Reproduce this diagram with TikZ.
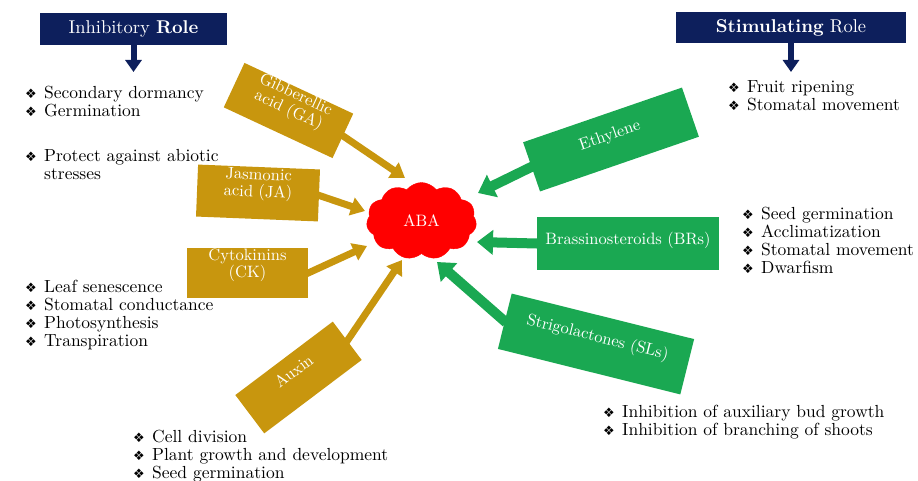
\documentclass[tikz,border=0pt]{standalone}
\usepackage{fontspec}
\setmainfont{lmroman10-regular.otf}[BoldFont=lmroman10-bold.otf, ItalicFont=lmroman10-italic.otf]
\newfontfamily\symfont{DejaVu Sans}
\usetikzlibrary{shapes.symbols,arrows.meta}
\definecolor{navy}{RGB}{13,31,92}
\definecolor{gold}{RGB}{200,150,14}
\definecolor{leaf}{RGB}{26,168,82}
\definecolor{abared}{RGB}{255,0,0}
\newcommand{\bul}{\makebox[11pt][l]{\symfont\fontsize{13}{13}\selectfont ❖}}
\newcommand{\blist}[1]{\begin{tabular}[t]{@{}l@{\hspace{8pt}}l@{}}#1\end{tabular}}
\newcommand{\boxlbl}[2]{\raisebox{#1}[\height][\depth]{\begin{tabular}{@{}c@{}}#2\end{tabular}}}
\tikzset{
  titlebox/.style={fill=navy, text=white, inner sep=0pt, font=\fontsize{18.5}{18}\selectfont},
  goldbox/.style={fill=gold, text=white, inner sep=0pt, font=\fontsize{16.5}{15}\selectfont},
  greenbox/.style={fill=leaf, text=white, inner sep=0pt, font=\fontsize{16.5}{15}\selectfont},
  lst/.style={inner sep=0pt, font=\fontsize{17.5}{18}\selectfont},
  navyarrow/.style={draw=navy, line width=6pt, -{Triangle[width=16pt,length=12pt]}},
  goldarrow/.style={draw=gold, line width=7pt, -{Triangle[width=18pt,length=14pt]}, shorten <=-2pt},
  greenarrow/.style={draw=leaf, line width=10pt, -{Triangle[width=24pt,length=16pt]}, shorten <=-2pt}
}
\begin{document}
\begin{tikzpicture}[x=1pt,y=-1pt]
\useasboundingbox (0,0) rectangle (918,481);

% titles
\node[titlebox, minimum width=187, minimum height=32] (inh) at (133.5,29) {Inhibitory \textbf{Role}};
\node[titlebox, minimum width=230, minimum height=31] (stim) at (791,27.5) {\textbf{Stimulating} Role};
\coordinate (inhT) at (133.5,72);
\coordinate (stimT) at (791,72);
\draw[navyarrow] (inh.south) -- (inhT);
\draw[navyarrow] (stim.south) -- (stimT);

% bullet lists
\node[lst, anchor=base west] (l1) at (25,99) {\blist{\bul & Secondary dormancy\\ \bul & Germination}};
\node[lst, anchor=base west] (l2) at (25,162) {\blist{\bul & Protect against abiotic\\ & stresses}};
\node[lst, anchor=base west] (l3) at (25,292) {\blist{\bul & Leaf senescence\\ \bul & Stomatal conductance\\ \bul & Photosynthesis\\ \bul & Transpiration}};
\node[lst, anchor=base west] (l4) at (133,442) {\blist{\bul & Cell division\\ \bul & Plant growth and development\\ \bul & Seed germination}};
\node[lst, anchor=base west] (r1) at (728,93) {\blist{\bul & Fruit ripening\\ \bul & Stomatal movement}};
\node[lst, anchor=base west] (r2) at (742,219) {\blist{\bul & Seed germination\\ \bul & Acclimatization\\ \bul & Stomatal movement\\ \bul & Dwarfism}};
\node[lst, anchor=base west] (r3) at (603,417) {\blist{\bul & Inhibition of auxiliary bud growth\\ \bul & Inhibition of branching of shoots}};

% ABA cloud
\node[cloud, cloud puffs=11, cloud puff arc=105, aspect=1.45, fill=abared, draw=abared, inner sep=0pt,
      minimum width=110, minimum height=77, text=white, font=\fontsize{16.5}{16}\selectfont] (aba) at (421.5,221) {ABA};

% gold boxes
\node[goldbox, rotate=-25, minimum width=120, minimum height=49] (ga) at (288.5,110.5) {\boxlbl{8pt}{Gibberellic\\acid (GA)}};
\node[goldbox, rotate=-2.3, minimum width=122, minimum height=52] (ja) at (258,193) {\boxlbl{8pt}{Jasmonic\\acid (JA)}};
\node[goldbox, minimum width=121, minimum height=50] (ck) at (247.5,273) {\boxlbl{8pt}{Cytokinins\\(CK)}};
\node[goldbox, rotate=37, minimum width=122, minimum height=48] (aux) at (298.5,377.5) {\boxlbl{6pt}{Auxin}};

% green boxes
\node[greenbox, rotate=19, minimum width=168, minimum height=52] (eth) at (611,139.5) {\boxlbl{3pt}{Ethylene}};
\node[greenbox, minimum width=182, minimum height=53] (br) at (628,243.5) {\boxlbl{3pt}{Brassinosteroids (BRs)}};
\node[greenbox, rotate=-14, minimum width=188, minimum height=57] (sl) at (596,344) {\boxlbl{6pt}{Strigolactones (SLs)}};

% arrow tips at ABA
\coordinate (tGA) at (405,178);
\coordinate (tJA) at (365,211);
\coordinate (tCK) at (367,246);
\coordinate (tAUX) at (402,260);
\coordinate (tETH) at (478,193);
\coordinate (tBR) at (477,242);
\coordinate (tSL) at (437,262);

\draw[goldarrow] (ga.east) -- (tGA);
\draw[goldarrow] (ja.east) -- (tJA);
\draw[goldarrow] (ck.east) -- (tCK);
\draw[goldarrow] (aux.east) -- (tAUX);
\draw[greenarrow] (eth.west) -- (tETH);
\draw[greenarrow] (br.west) -- (tBR);
\draw[greenarrow] (sl.west) -- (tSL);
\end{tikzpicture}
\end{document}
